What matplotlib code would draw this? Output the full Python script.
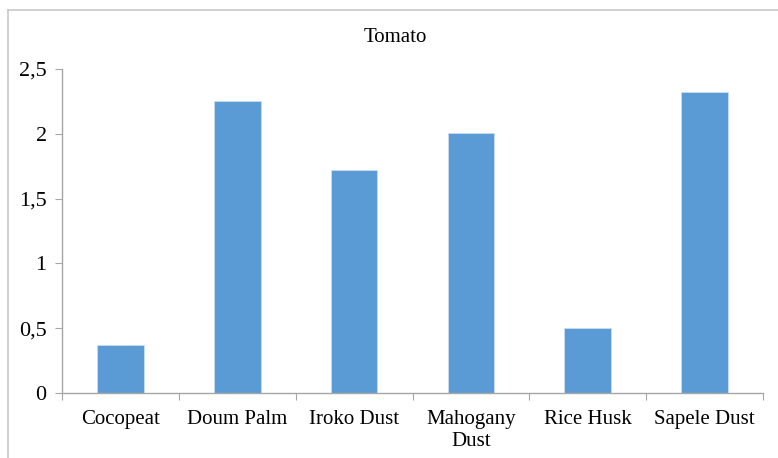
import matplotlib.pyplot as plt
from matplotlib.lines import Line2D
import numpy as np

plt.rcParams['font.family'] = ['Liberation Serif', 'DejaVu Serif']

categories = ['Cocopeat', 'Doum Palm', 'Iroko Dust', 'Mahogany\nDust', 'Rice Husk', 'Sapele Dust']
values = [0.37, 2.25, 1.72, 2.01, 0.50, 2.32]
yticks = [0, 0.5, 1, 1.5, 2, 2.5]
ytick_labels = ['0', '0,5', '1', '1,5', '2', '2,5']

fig = plt.figure(figsize=(7.78, 4.58), dpi=100)
ax = fig.add_axes([62/778, 1-393/458, (763-62)/778, (393-69)/458])

x = np.arange(len(categories))
ax.bar(x, values, width=0.4, color='#5B9BD5', edgecolor='#C9DDF0', linewidth=0.6)

ax.set_xlim(-0.5, len(categories)-0.5)
ax.set_ylim(0, 2.5)
ax.set_yticks(yticks)
ax.set_yticklabels(ytick_labels, fontsize=16)

# category boundaries get the tick marks, centres get the labels
ax.set_xticks(np.arange(-0.5, len(categories), 1))
ax.set_xticklabels([''] * (len(categories)+1))
ax.set_xticks(x, minor=True)
ax.set_xticklabels(categories, minor=True, fontsize=15, linespacing=1.25)
ax.tick_params(axis='x', which='minor', length=0, pad=12)
ax.tick_params(axis='x', which='major', length=5, color='#A6A6A6')
ax.tick_params(axis='y', length=5, color='#A6A6A6', pad=6)

for s in ['top', 'right']:
    ax.spines[s].set_visible(False)
for s in ['left', 'bottom']:
    ax.spines[s].set_color('#A6A6A6')
    ax.spines[s].set_linewidth(1.0)

fig.text(395/778, 1-37/458, 'Tomato', ha='center', va='center', fontsize=15)

# chart area border (only top and left visible in the crop)
fig.add_artist(Line2D([8/778, 1], [1-10/458, 1-10/458], color='#C8C8C8', lw=1.2))
fig.add_artist(Line2D([8/778, 8/778], [0, 1-10/458], color='#C8C8C8', lw=1.2))

plt.savefig('out.png', dpi=100)
